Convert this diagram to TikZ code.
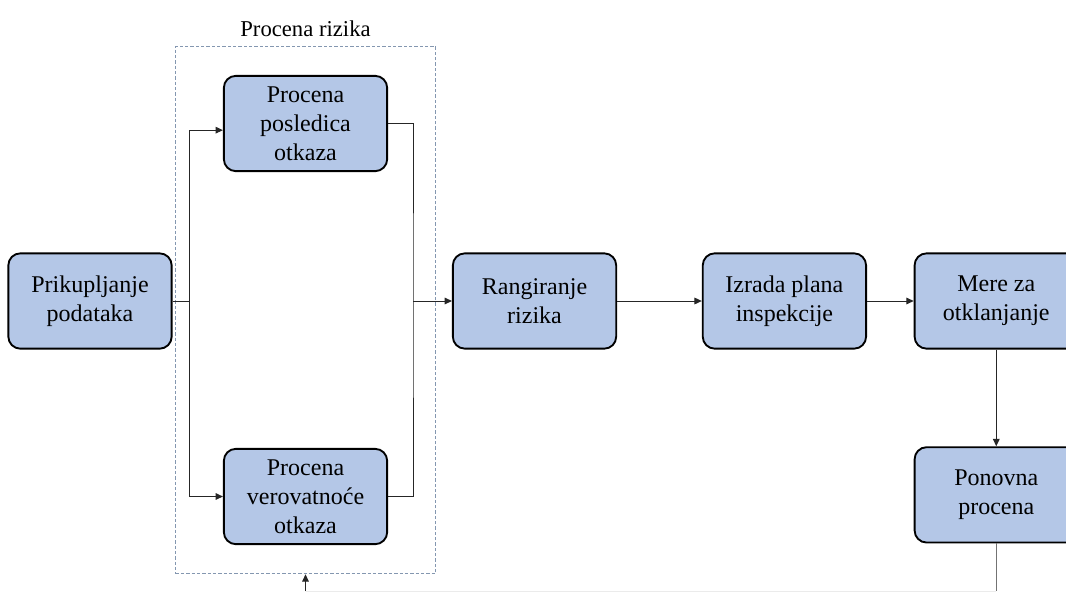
\documentclass[tikz,border=0pt]{standalone}
\usepackage{fontspec}
\setmainfont{Liberation Serif}
\usepackage{tikz}
\usetikzlibrary{arrows.meta, positioning, fit, calc}

\definecolor{boxblue}{HTML}{B4C7E7}
\definecolor{dashblue}{HTML}{8497B0}

\begin{document}
\begin{tikzpicture}[
    x=0.75pt, y=-0.75pt,
    stage/.style={rectangle, rounded corners=9pt, draw, line width=1.4pt, fill=boxblue,
                  minimum width=122.5pt, minimum height=71.5pt, align=center,
                  font=\fontsize{18}{21.75}\selectfont},
    riskbox/.style={rectangle, draw=dashblue, line width=0.8pt, dash pattern=on 2.5pt off 1.5pt},
    arrow/.style={-{Triangle[length=5.5pt, width=5pt]}, black!85, line width=0.75pt},
    link/.style={black!85, line width=0.75pt},
]
\useasboundingbox (0,0) rectangle (1066,596);

% Data collection
\node[stage] (prikupljanje) at (90,301) {Prikupljanje\\podataka};

% Risk assessment
\node[stage] (posledica) at (305.5,123.5) {Procena\\posledica\\otkaza};
\node[stage] (verovatnoca) at (305.5,496.5) {Procena\\verovatnoće\\otkaza};
\node[riskbox, fit=(posledica)(verovatnoca), inner xsep=35.5pt, inner ysep=21.5pt,
      label={[font=\fontsize{17}{20}\selectfont, label distance=3pt]above:Procena rizika}] (rizik) {};

% Main chain
\node[stage, right=209.5pt of prikupljanje] (rangiranje) {Rangiranje\\rizika};
\node[stage, right=63.5pt of rangiranje] (izrada) {Izrada plana\\inspekcije};
\node[stage, right=35pt of izrada] (mere) {Mere za\\otklanjanje};
\node[stage, below=72.5pt of mere] (ponovna) {Ponovna\\procena};

% Split and merge points
\coordinate (split) at (189,301);
\coordinate (merge) at (413,301);

% Connections
\draw[link] (prikupljanje.east) -- (split);
\draw[arrow] (split) |- ([yshift=-5pt]posledica.west);
\draw[arrow] (split) |- (verovatnoca.west);
\draw[link] (posledica.east) -| (merge) |- (verovatnoca.east);
\draw[arrow] (merge) -- (rangiranje.west);
\draw[arrow] (rangiranje) -- (izrada);
\draw[arrow] (izrada) -- (mere);
\draw[arrow] (mere) -- (ponovna);

% Feedback to risk assessment
\coordinate (fbright) at ($(ponovna.south)+(0,48)$);
\coordinate (fbleft) at (rizik.south |- fbright);
\draw[link, black!55] (ponovna.south) -- (fbright);
\draw[link, black!8] (fbright) -- (fbleft);
\draw[arrow] (fbleft) -- (rizik.south);

\end{tikzpicture}
\end{document}
